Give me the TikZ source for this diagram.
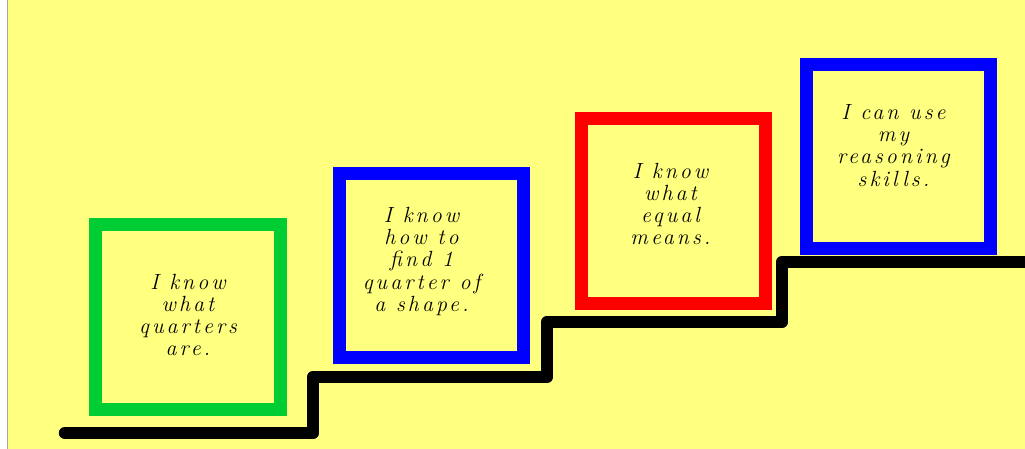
\documentclass[tikz,border=0pt]{standalone}
\usepackage{xcolor}
\usepackage{fontspec}
\newfontfamily\handfont[LetterSpace=14]{Latin Modern Roman}
\usepackage{tikz}
\usetikzlibrary{calc}
\definecolor{pad}{RGB}{255,255,128}
\definecolor{goalgreen}{RGB}{0,204,51}
\definecolor{goalblue}{RGB}{0,0,255}
\definecolor{goalred}{RGB}{255,0,0}
\tikzset{
    goal/.style={draw=#1, line width=0.26cm, minimum size=3.7cm, inner sep=0pt},
    lab/.style={font=\handfont\itshape\fontsize{12.5}{12.6}\selectfont, align=center, text=black},
    stair/.style={line width=0.25cm, line cap=round, line join=round, black},
}

\begin{document}
\begin{tikzpicture}[x=0.02cm, y=-0.02cm]
    \useasboundingbox (0,0) rectangle (1025,449);
    \fill[white] (0,0) rectangle (1025,449);
    \fill[pad] (7.5,0) rectangle (1025,449);
    \draw[black!35, line width=0.6pt] (7.5,0) -- (7.5,449);
    % the four steps
    \node[goal=goalgreen] (g1) at (188,317) {};
    \node[goal=goalblue] (g2) at (431.5,265.5) {};
    \node[goal=goalred] (g3) at (673.5,211) {};
    \node[goal=goalblue] (g4) at (898.5,156.5) {};
    \node[lab] (t1) at ($(g1.center)+(0,-2)$) {I know\\what\\quarters\\are.};
    \node[lab] (t2) at ($(g2.center)+(-10,-4)$) {I know\\how to\\find 1\\quarter of\\a shape.};
    \node[lab] (t3) at ($(g3.center)+(-3,-7)$) {I know\\what\\equal\\means.};
    \node[lab] (t4) at ($(g4.center)+(-5,-11)$) {I can use\\my\\reasoning\\skills.};
    % staircase
    \draw[stair] (65,433) -- (313,433) -- (313,377) -- (547,377) -- (547,322)
        -- (782,322) -- (782,262) -- (1040,262);
\end{tikzpicture}
\end{document}
